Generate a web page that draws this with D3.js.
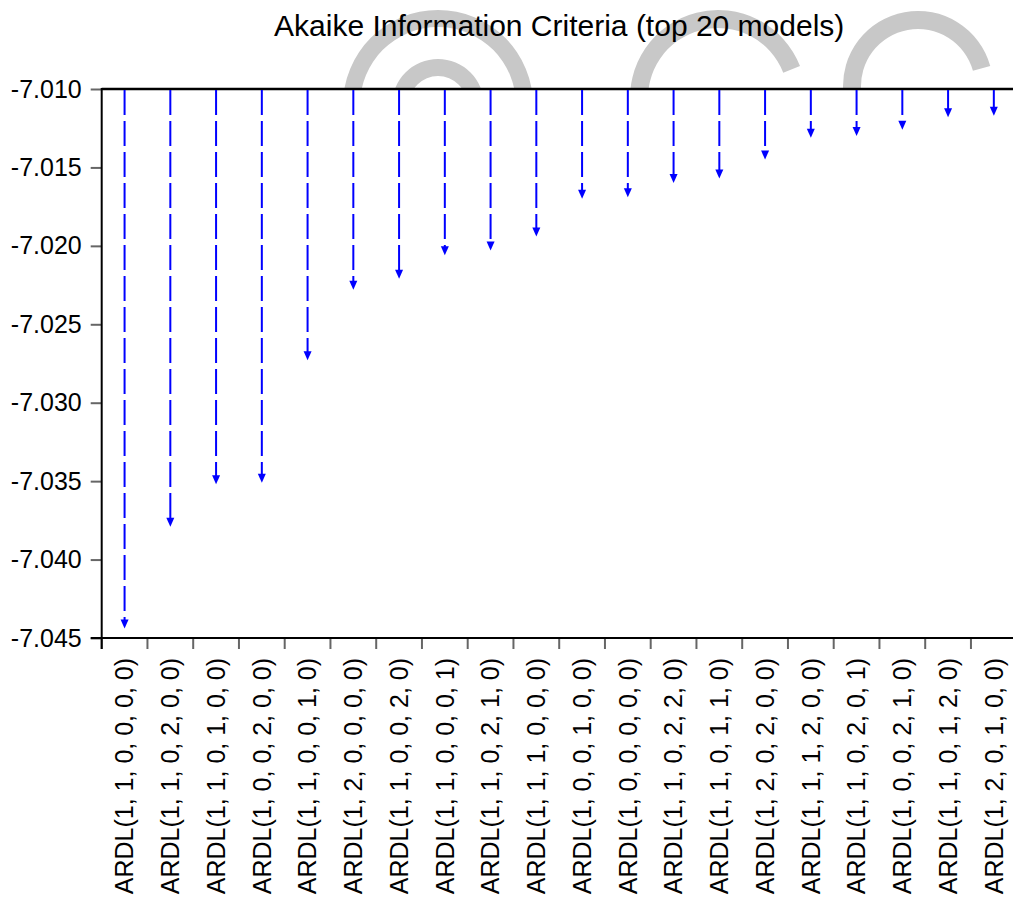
<!DOCTYPE html>
<html>
<head>
<meta charset="utf-8">
<script src="https://cdn.jsdelivr.net/npm/d3@7"></script>
<style>
  body { margin: 0; background: #fff; }
  text { font-family: "Liberation Sans", Arial, sans-serif; fill: #000; }
</style>
</head>
<body>
<svg id="chart" width="1013" height="903"></svg>
<script>
// model labels (x categories)
const models = [
  "ARDL(1, 1, 0, 0, 0, 0)", "ARDL(1, 1, 0, 2, 0, 0)", "ARDL(1, 1, 0, 1, 0, 0)",
  "ARDL(1, 0, 0, 2, 0, 0)", "ARDL(1, 1, 0, 0, 1, 0)", "ARDL(1, 2, 0, 0, 0, 0)",
  "ARDL(1, 1, 0, 0, 2, 0)", "ARDL(1, 1, 0, 0, 0, 1)", "ARDL(1, 1, 0, 2, 1, 0)",
  "ARDL(1, 1, 1, 0, 0, 0)", "ARDL(1, 0, 0, 1, 0, 0)", "ARDL(1, 0, 0, 0, 0, 0)",
  "ARDL(1, 1, 0, 2, 2, 0)", "ARDL(1, 1, 0, 1, 1, 0)", "ARDL(1, 2, 0, 2, 0, 0)",
  "ARDL(1, 1, 1, 2, 0, 0)", "ARDL(1, 1, 0, 2, 0, 1)", "ARDL(1, 0, 0, 2, 1, 0)",
  "ARDL(1, 1, 0, 1, 2, 0)", "ARDL(1, 2, 0, 1, 0, 0)"
];

// AIC values
const aic = [
  -7.0444, -7.0379, -7.0352, -7.0351, -7.0273, -7.0228, -7.0221, -7.0206, -7.0203, -7.0194,
  -7.0170, -7.0169, -7.0160, -7.0157, -7.0145, -7.0131, -7.0130, -7.0126, -7.0118, -7.0117
];

const yTicks = [-7.010, -7.015, -7.020, -7.025, -7.030, -7.035, -7.040, -7.045];

const W = 1013, H = 903;
const plotL = 101.7, plotR = 1016.7, plotT = 89, plotB = 638;

const svg = d3.select("#chart");

// faint watermark arcs behind the title
const clip = svg.append("defs").append("clipPath").attr("id", "wm");
clip.append("rect").attr("x", 0).attr("y", 0).attr("width", W).attr("height", plotT);

const marks = [
  { cx: 438, cy: 105, r0: 78, r1: 95, a0: -Math.PI, a1: Math.PI },
  { cx: 438, cy: 105, r0: 29, r1: 46, a0: -Math.PI, a1: Math.PI },
  { cx: 718, cy: 98, r0: 70, r1: 88, a0: -Math.PI, a1: 1.2 },
  { cx: 918, cy: 86, r0: 57, r1: 75, a0: -Math.PI, a1: 1.3 }
];
const arc = d3.arc();
svg.append("g").attr("clip-path", "url(#wm)")
  .selectAll("path").data(marks).enter().append("path")
  .attr("transform", d => `translate(${d.cx},${d.cy})`)
  .attr("d", d => arc({ innerRadius: d.r0, outerRadius: d.r1, startAngle: d.a0, endAngle: d.a1 }))
  .attr("fill", "#c8c8c8");

// title
svg.append("text")
  .attr("x", (plotL + plotR) / 2).attr("y", 36)
  .attr("text-anchor", "middle")
  .style("font-size", "30px")
  .text("Akaike Information Criteria (top 20 models)");

// scales
const x = d3.scaleBand().domain(models).range([plotL, plotR]);
const y = d3.scaleLinear().domain([-7.045, -7.010]).range([plotB, plotT]);

// y axis
const yAxis = svg.append("g")
  .attr("transform", `translate(${plotL},0)`)
  .call(d3.axisLeft(y).tickValues(yTicks).tickFormat(d => d.toFixed(3)).tickSize(11).tickPadding(9));
yAxis.select(".domain").remove();
yAxis.selectAll(".tick line").attr("stroke", "#666").attr("stroke-width", 2);
yAxis.selectAll(".tick text").style("font-size", "25px");
yAxis.attr("font-family", null).attr("font-size", null);

// x tick marks at category boundaries
const bounds = models.map(m => x(m)).concat([plotR]);
svg.append("g").selectAll("line").data(bounds).enter().append("line")
  .attr("x1", d => d).attr("x2", d => d)
  .attr("y1", plotB).attr("y2", plotB + 11)
  .attr("stroke", "#666").attr("stroke-width", 2);

// x labels, rotated
svg.append("g").selectAll("text").data(models).enter().append("text")
  .attr("transform", d => `translate(${x(d) + x.bandwidth() / 2},658) rotate(-90)`)
  .attr("text-anchor", "end")
  .attr("dy", "0.35em")
  .style("font-size", "25px")
  .text(d => d);

// frame
svg.append("line").attr("x1", plotL).attr("x2", W).attr("y1", plotT).attr("y2", plotT)
  .attr("stroke", "#000").attr("stroke-width", 2.5);
svg.append("line").attr("x1", plotL).attr("x2", plotL).attr("y1", plotT - 1).attr("y2", plotB + 11)
  .attr("stroke", "#000").attr("stroke-width", 2);
svg.append("line").attr("x1", plotL - 11).attr("x2", W).attr("y1", plotB).attr("y2", plotB)
  .attr("stroke", "#000").attr("stroke-width", 2);

// dashed arrows from the top down to each value
const ah = 9, aw = 4;
const arrows = svg.append("g");
arrows.selectAll("line").data(aic).enter().append("line")
  .attr("x1", (d, i) => x(models[i]) + x.bandwidth() / 2)
  .attr("x2", (d, i) => x(models[i]) + x.bandwidth() / 2)
  .attr("y1", plotT + 1)
  .attr("y2", d => y(d) - ah + 1)
  .attr("stroke", "#0000ff").attr("stroke-width", 2)
  .attr("stroke-dasharray", "25,6");
arrows.selectAll("polygon").data(aic).enter().append("polygon")
  .attr("points", (d, i) => {
    const cx = x(models[i]) + x.bandwidth() / 2, ty = y(d);
    return `${cx - aw},${ty - ah} ${cx + aw},${ty - ah} ${cx},${ty}`;
  })
  .attr("fill", "#0000ff");
</script>
</body>
</html>
